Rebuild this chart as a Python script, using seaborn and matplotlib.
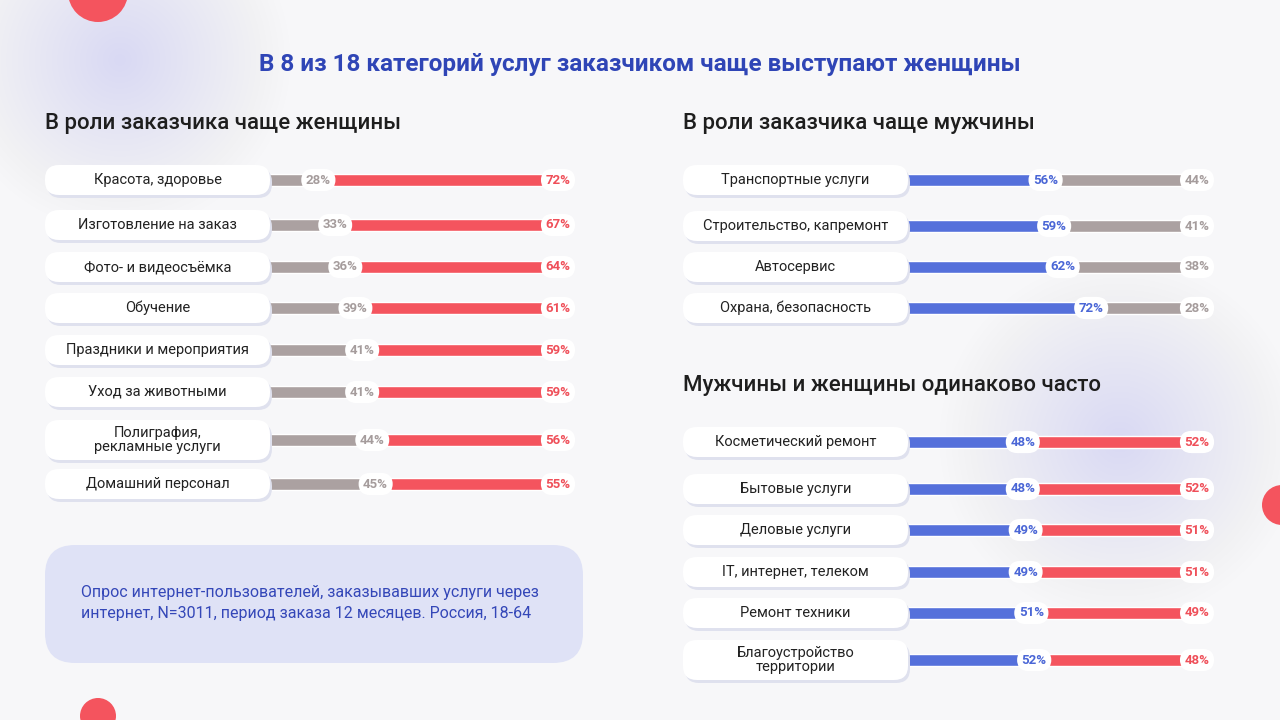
import seaborn as sns
import matplotlib.pyplot as plt
from matplotlib.patches import FancyBboxPatch, Circle

sns.set_theme(style="white")
plt.rcParams['font.family'] = ['Roboto', 'DejaVu Sans']

title = "В 8 из 18 категорий услуг заказчиком чаще выступают женщины"

women_cats = ["Красота, здоровье", "Изготовление на заказ", "Фото- и видеосъёмка", "Обучение",
              "Праздники и мероприятия", "Уход за животными", "Полиграфия,\nрекламные услуги",
              "Домашний персонал"]
women_men = [28, 33, 36, 39, 41, 41, 44, 45]
women_women = [72, 67, 64, 61, 59, 59, 56, 55]

men_cats = ["Транспортные услуги", "Строительство, капремонт", "Автосервис", "Охрана, безопасность"]
men_men = [56, 59, 62, 72]
men_women = [44, 41, 38, 28]

equal_cats = ["Косметический ремонт", "Бытовые услуги", "Деловые услуги", "IT, интернет, телеком",
              "Ремонт техники", "Благоустройство\nтерритории"]
equal_men = [48, 48, 49, 49, 51, 52]
equal_women = [52, 52, 51, 51, 49, 48]

GREY, RED, BLUE = "#aba1a1", "#f4545e", "#5570db"
GREY_T, RED_T, BLUE_T = "#a59c9c", "#ef4f59", "#4a66d6"

fig = plt.figure(figsize=(12.8, 7.2), dpi=100)
fig.patch.set_facecolor("#f7f7f9")
ax = fig.add_axes([0, 0, 1, 1])
ax.set_xlim(0, 1280)
ax.set_ylim(720, 0)
ax.axis("off")

# soft background blobs
for (cx, cy, r) in [(120, 60, 170), (1120, 440, 180)]:
    for k in range(30):
        ax.add_patch(Circle((cx, cy), r * (1 - k / 30), color="#d3d6f3", alpha=0.025, lw=0, zorder=0))
for (cx, cy, r) in [(98, -8, 30), (1282, 505, 20), (98, 716, 18)]:
    ax.add_patch(Circle((cx, cy), r, color="#f4545e", lw=0, zorder=1))

ax.text(640, 64, title, ha="center", va="center", fontsize=17.5, fontweight="bold", color="#2f45b6")
for x, y, t in [(45, 124, "В роли заказчика чаще женщины"), (683, 124, "В роли заказчика чаще мужчины"),
                (683, 385, "Мужчины и женщины одинаково часто")]:
    ax.text(x, y, t, fontsize=16, fontweight="medium", va="center", color="#1e1e1e")


def pill(x, y, w, h, text):
    ax.add_patch(FancyBboxPatch((x + 2, y - h / 2 + 3), w, h, boxstyle="round,pad=0,rounding_size=14",
                                fc="#dfe1ee", ec="none", zorder=6))
    ax.add_patch(FancyBboxPatch((x, y - h / 2), w, h, boxstyle="round,pad=0,rounding_size=14",
                                fc="white", ec="none", zorder=7))
    ax.text(x + w / 2, y, text, ha="center", va="center", fontsize=10.5, color="#222222",
            linespacing=1.0, zorder=8)


def badge(x, y, text, color):
    ax.text(x, y, text, ha="center", va="center", fontsize=9.5, fontweight="bold", color=color, zorder=9,
            bbox=dict(boxstyle="round,pad=0.35,rounding_size=0.9", fc="white", ec="none"))


def panel(cats, first, second, ys, px, x0, w, c1, c2, t1, t2, end):
    for cat, a, b, y in zip(cats, first, second, ys):
        h = 40 if "\n" in cat else 30
        split = x0 + w * a / 100
        ax.barh(y, split - (px + 200), left=px + 200, height=12, color=c1, zorder=5)
        ax.barh(y, end - split, left=split, height=12, color=c2, zorder=5)
        pill(px, y, 225, h, cat)
        badge(split - 14, y, f"{a}%", t1)
        badge(end, y, f"{b}%", t2)


panel(women_cats, women_men, women_women, [180, 225, 267, 308, 350, 392, 440, 484],
      45, 238, 337, GREY, RED, GREY_T, RED_T, 558)
panel(men_cats, men_men, men_women, [180, 226, 267, 308], 683, 900, 285, BLUE, GREY, BLUE_T, GREY_T, 1197)
panel(equal_cats, equal_men, equal_women, [442, 489, 530, 572, 613, 660], 683, 900, 285, BLUE, RED,
      BLUE_T, RED_T, 1197)

ax.add_patch(FancyBboxPatch((45, 545), 538, 118, boxstyle="round,pad=0,rounding_size=30",
                            fc="#dfe2f6", ec="none", zorder=2))
ax.text(81, 603, "Опрос интернет-пользователей, заказывавших услуги через\n"
        "интернет, N=3011, период заказа 12 месяцев. Россия, 18-64",
        va="center", fontsize=11.5, color="#3447b8", linespacing=1.5, zorder=3)

fig.savefig("out.png", dpi=100, facecolor=fig.get_facecolor())
